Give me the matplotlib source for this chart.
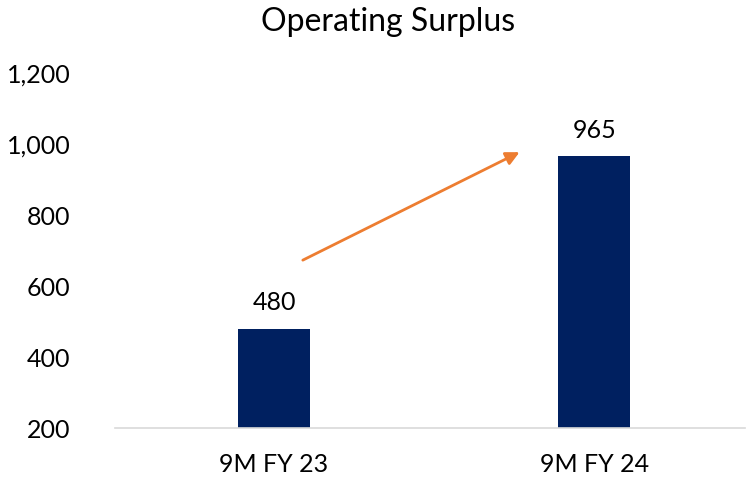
import matplotlib
matplotlib.use("Agg")
import matplotlib.pyplot as plt
from matplotlib.ticker import FuncFormatter

categories = ["9M FY 23", "9M FY 24"]
surplus = [480, 965]
y_ticks = [200, 400, 600, 800, 1000, 1200]

plt.rcParams['font.family'] = ['Lato', 'DejaVu Sans']

fig = plt.figure(figsize=(7.46, 4.8), dpi=100)
ax = fig.add_axes([0.154, 0.108, 0.845, 0.74])

xs = range(len(categories))
bars = ax.bar(xs, surplus, width=0.225, color="#002060")
for x, v in zip(xs, surplus):
    ax.text(x, v + 40, f"{v:,}", ha="center", va="bottom", fontsize=18, color="#000000")

ax.set_xlim(-0.497, 1.472)
ax.set_ylim(200, 1200)
ax.set_yticks(y_ticks)
ax.yaxis.set_major_formatter(FuncFormatter(lambda v, p: f"{int(v):,}"))
ax.set_xticks(list(xs))
ax.set_xticklabels(categories)
ax.tick_params(axis="both", length=0, labelsize=18, colors="#000000")
ax.tick_params(axis="y", pad=32)
ax.tick_params(axis="x", pad=18)

for side in ["left", "right", "top"]:
    ax.spines[side].set_visible(False)
ax.spines["bottom"].set_color("#D9D9D9")
ax.spines["bottom"].set_linewidth(1.2)

# trend arrow
ax.annotate("", xy=(0.767, 977), xytext=(0.09, 673),
            arrowprops=dict(arrowstyle="-|>", color="#ED7D31", lw=2,
                            mutation_scale=20, shrinkA=0, shrinkB=0))

fig.text(0.52, 0.955, "Operating Surplus", ha="center", va="center", fontsize=23)

fig.savefig("out.png", dpi=100)
